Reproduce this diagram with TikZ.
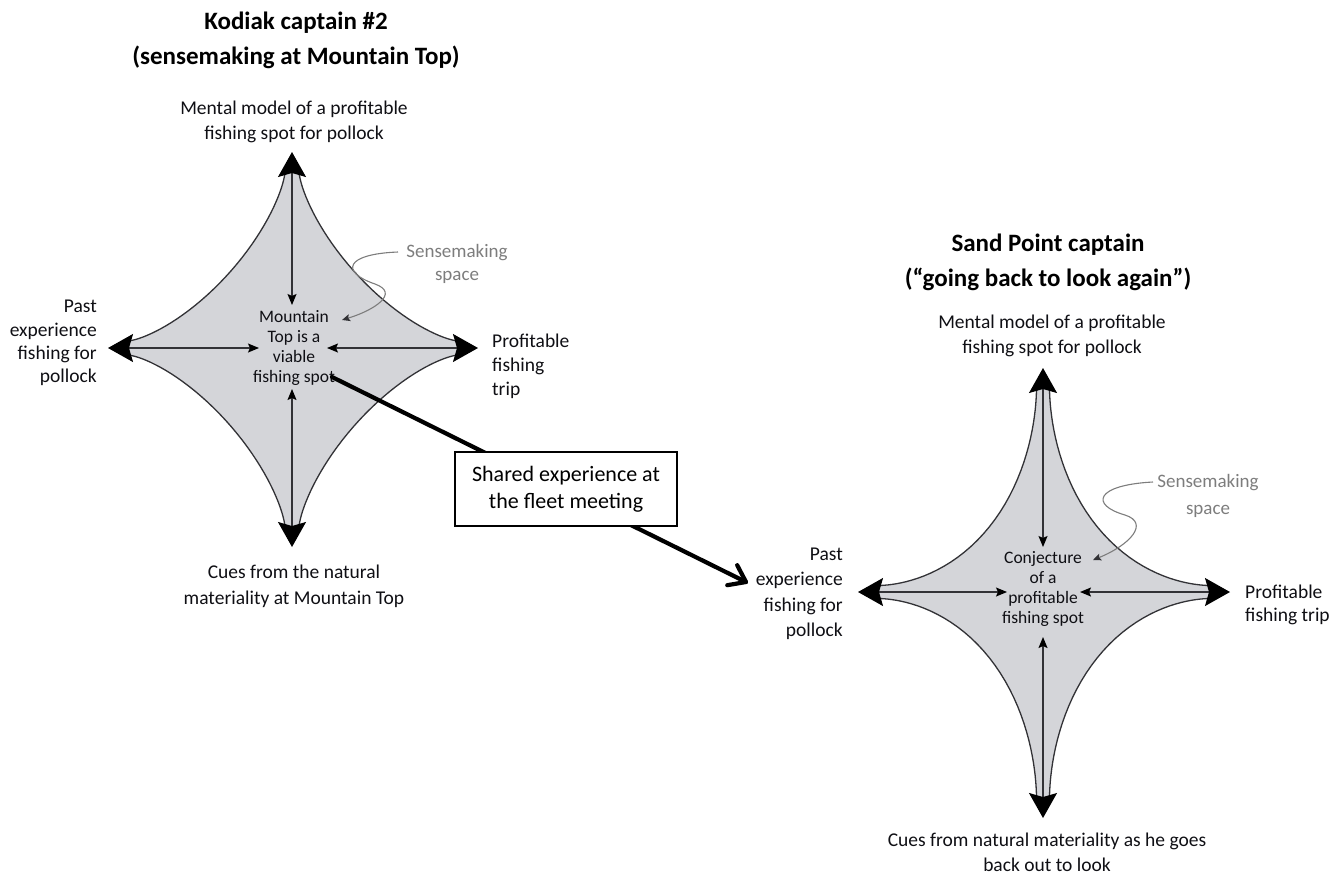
\documentclass[tikz,border=0pt]{standalone}
\usepackage{fontspec}
\setmainfont{Carlito}
\usetikzlibrary{arrows.meta,calc}

\definecolor{starfill}{RGB}{212,213,217}
\definecolor{edgegray}{RGB}{50,50,54}
\definecolor{notegray}{RGB}{125,125,125}
\definecolor{inkblack}{RGB}{15,15,20}

\tikzset{
  starbody/.style={fill=starfill, draw=edgegray, line width=1.3pt, line join=round},
  axisline/.style={draw=edgegray, line width=1.3pt,
    {Stealth[length=25pt,width=28pt,inset=4pt,color=black]}-{Stealth[length=11pt,width=9pt,inset=2pt,color=black]}},
  bodytext/.style={inner sep=0pt, text=inkblack, font=\fontsize{19.5}{24.5}\selectfont},
  coretext/.style={inner sep=0pt, text=inkblack, align=center, font=\fontsize{17.5}{20.3}\selectfont},
  titletext/.style={inner sep=0pt, text=black, align=center, font=\bfseries\fontsize{25}{35}\selectfont},
  notetext/.style={inner sep=0pt, text=notegray, align=center, font=\fontsize{19}{25}\selectfont},
  notecurve/.style={draw=notegray, line width=1.1pt, -{Stealth[length=8pt,width=7pt,inset=1.5pt,color=edgegray]}},
  linkarrow/.style={draw=black, line width=4.2pt, line cap=round, line join=round},
  sharedbox/.style={draw=black, line width=2.2pt, fill=white, minimum width=222pt, minimum height=74pt,
    align=center, inner sep=0pt, font=\fontsize{22}{27}\selectfont}
}

% Four-armed star with concave sides.
% #1,#2 centre; #3 up, #4 down, #5 left, #6 right arm length; #7 half shaft width; #8 side exponent
\newcommand\fourstar[8]{%
  \def\hl{20}%
  \pgfmathsetmacro\aU{#3-\hl-#7}%
  \pgfmathsetmacro\aD{#4-\hl-#7}%
  \pgfmathsetmacro\aL{#5-\hl-#7}%
  \pgfmathsetmacro\aR{#6-\hl-#7}%
  \filldraw[starbody]
    (#1+#7, #2-#3+\hl)
    -- plot[domain=1:89,samples=45,variable=\t] ({#1+#7+\aR*pow(sin(\t),#8)}, {#2-#7-\aU*pow(cos(\t),#8)})
    -- (#1+#6-\hl, #2-#7) -- (#1+#6-\hl, #2+#7)
    -- plot[domain=1:89,samples=45,variable=\t] ({#1+#7+\aR*pow(cos(\t),#8)}, {#2+#7+\aD*pow(sin(\t),#8)})
    -- (#1+#7, #2+#4-\hl) -- (#1-#7, #2+#4-\hl)
    -- plot[domain=1:89,samples=45,variable=\t] ({#1-#7-\aL*pow(sin(\t),#8)}, {#2+#7+\aD*pow(cos(\t),#8)})
    -- (#1-#5+\hl, #2+#7) -- (#1-#5+\hl, #2-#7)
    -- plot[domain=1:89,samples=45,variable=\t] ({#1-#7-\aL*pow(cos(\t),#8)}, {#2-#7-\aU*pow(sin(\t),#8)})
    -- cycle;
}

\begin{document}
\begin{tikzpicture}[x=1pt, y=-1pt]
\useasboundingbox (0,0) rectangle (1341,876);

% ---------- Kodiak captain #2 ----------
\fourstar{292}{348}{196}{199}{184}{186}{7}{2.8}

\coordinate (kTop) at (292,152);
\coordinate (kBot) at (292,547);
\coordinate (kLft) at (108,348);
\coordinate (kRgt) at (478,348);
\coordinate (kTopIn) at (292,305);
\coordinate (kBotIn) at (292,389);
\coordinate (kLftIn) at (259,348);
\coordinate (kRgtIn) at (327,348);
\draw[axisline] (kTop) -- (kTopIn);
\draw[axisline] (kBot) -- (kBotIn);
\draw[axisline] (kLft) -- (kLftIn);
\draw[axisline] (kRgt) -- (kRgtIn);

\node[titletext] (kTitle) at (296,40) {Kodiak captain \#2\\(sensemaking at Mountain Top)};
\node[bodytext, align=center] (kMental) at (294,122) {Mental model of a profitable\\fishing spot for pollock};
\node[bodytext, align=right, anchor=east, font=\fontsize{19.5}{23.3}\selectfont] (kPast) at (97,343) {Past\\experience\\fishing for\\pollock};
\node[bodytext, align=left, anchor=west, font=\fontsize{19.5}{24}\selectfont] (kProfit) at (492,366) {Profitable\\fishing\\trip};
\node[bodytext, align=center, font=\fontsize{19.5}{26}\selectfont] (kCues) at (294,586) {Cues from the natural\\materiality at Mountain Top};
\node[coretext] (kCore) at (294,348) {Mountain\\Top is a\\viable\\fishing spot};

\node[notetext, font=\fontsize{19}{23.5}\selectfont] (kNote) at (457,264) {Sensemaking\\space};
\coordinate (kNoteStart) at (398,252);
\coordinate (kNoteEnd) at (342,320);
\draw[notecurve] (kNoteStart) .. controls (345,254) and (340,272) .. (375,284)
  .. controls (400,293) and (375,310) .. (kNoteEnd);

% ---------- Sand Point captain ----------
\fourstar{1043}{592}{224}{226}{185}{187}{6.5}{3.5}

\coordinate (sTop) at (1043,368);
\coordinate (sBot) at (1043,818);
\coordinate (sLft) at (858,592);
\coordinate (sRgt) at (1230,592);
\coordinate (sTopIn) at (1043,547);
\coordinate (sBotIn) at (1043,637);
\coordinate (sLftIn) at (1007,592);
\coordinate (sRgtIn) at (1080,592);
\draw[axisline] (sTop) -- (sTopIn);
\draw[axisline] (sBot) -- (sBotIn);
\draw[axisline] (sLft) -- (sLftIn);
\draw[axisline] (sRgt) -- (sRgtIn);

\node[titletext] (sTitle) at (1048,262) {Sand Point captain\\(“going back to look again”)};
\node[bodytext, align=center] (sMental) at (1052,336) {Mental model of a profitable\\fishing spot for pollock};
\node[bodytext, align=right, anchor=east, font=\fontsize{19.5}{25.5}\selectfont] (sPast) at (843,594) {Past\\experience\\fishing for\\pollock};
\node[bodytext, align=left, anchor=west, font=\fontsize{19.5}{23.5}\selectfont] (sProfit) at (1245,605) {Profitable\\fishing trip};
\node[bodytext, align=center, font=\fontsize{19.5}{25}\selectfont] (sCues) at (1047,852) {Cues from natural materiality as he goes\\back out to look};
\node[coretext] (sCore) at (1043,589) {Conjecture\\of a\\profitable\\fishing spot};

\node[notetext, font=\fontsize{19}{27}\selectfont] (sNote) at (1208,496) {Sensemaking\\space};
\coordinate (sNoteStart) at (1153,482);
\coordinate (sNoteEnd) at (1093,560);
\draw[notecurve] (sNoteStart) .. controls (1095,485) and (1090,505) .. (1125,515)
  .. controls (1150,523) and (1130,545) .. (sNoteEnd);

% ---------- link between the two captains ----------
\coordinate (linkStart) at (332,377);
\coordinate (linkEnd) at (746,582);
\draw[linkarrow] (linkStart) -- (linkEnd);
\draw[linkarrow] ($(linkEnd)!19pt!36:(linkStart)$) -- (linkEnd) -- ($(linkEnd)!19pt!-36:(linkStart)$);
\node[sharedbox] (shared) at (566,489) {Shared experience at\\the fleet meeting};

\end{tikzpicture}
\end{document}
